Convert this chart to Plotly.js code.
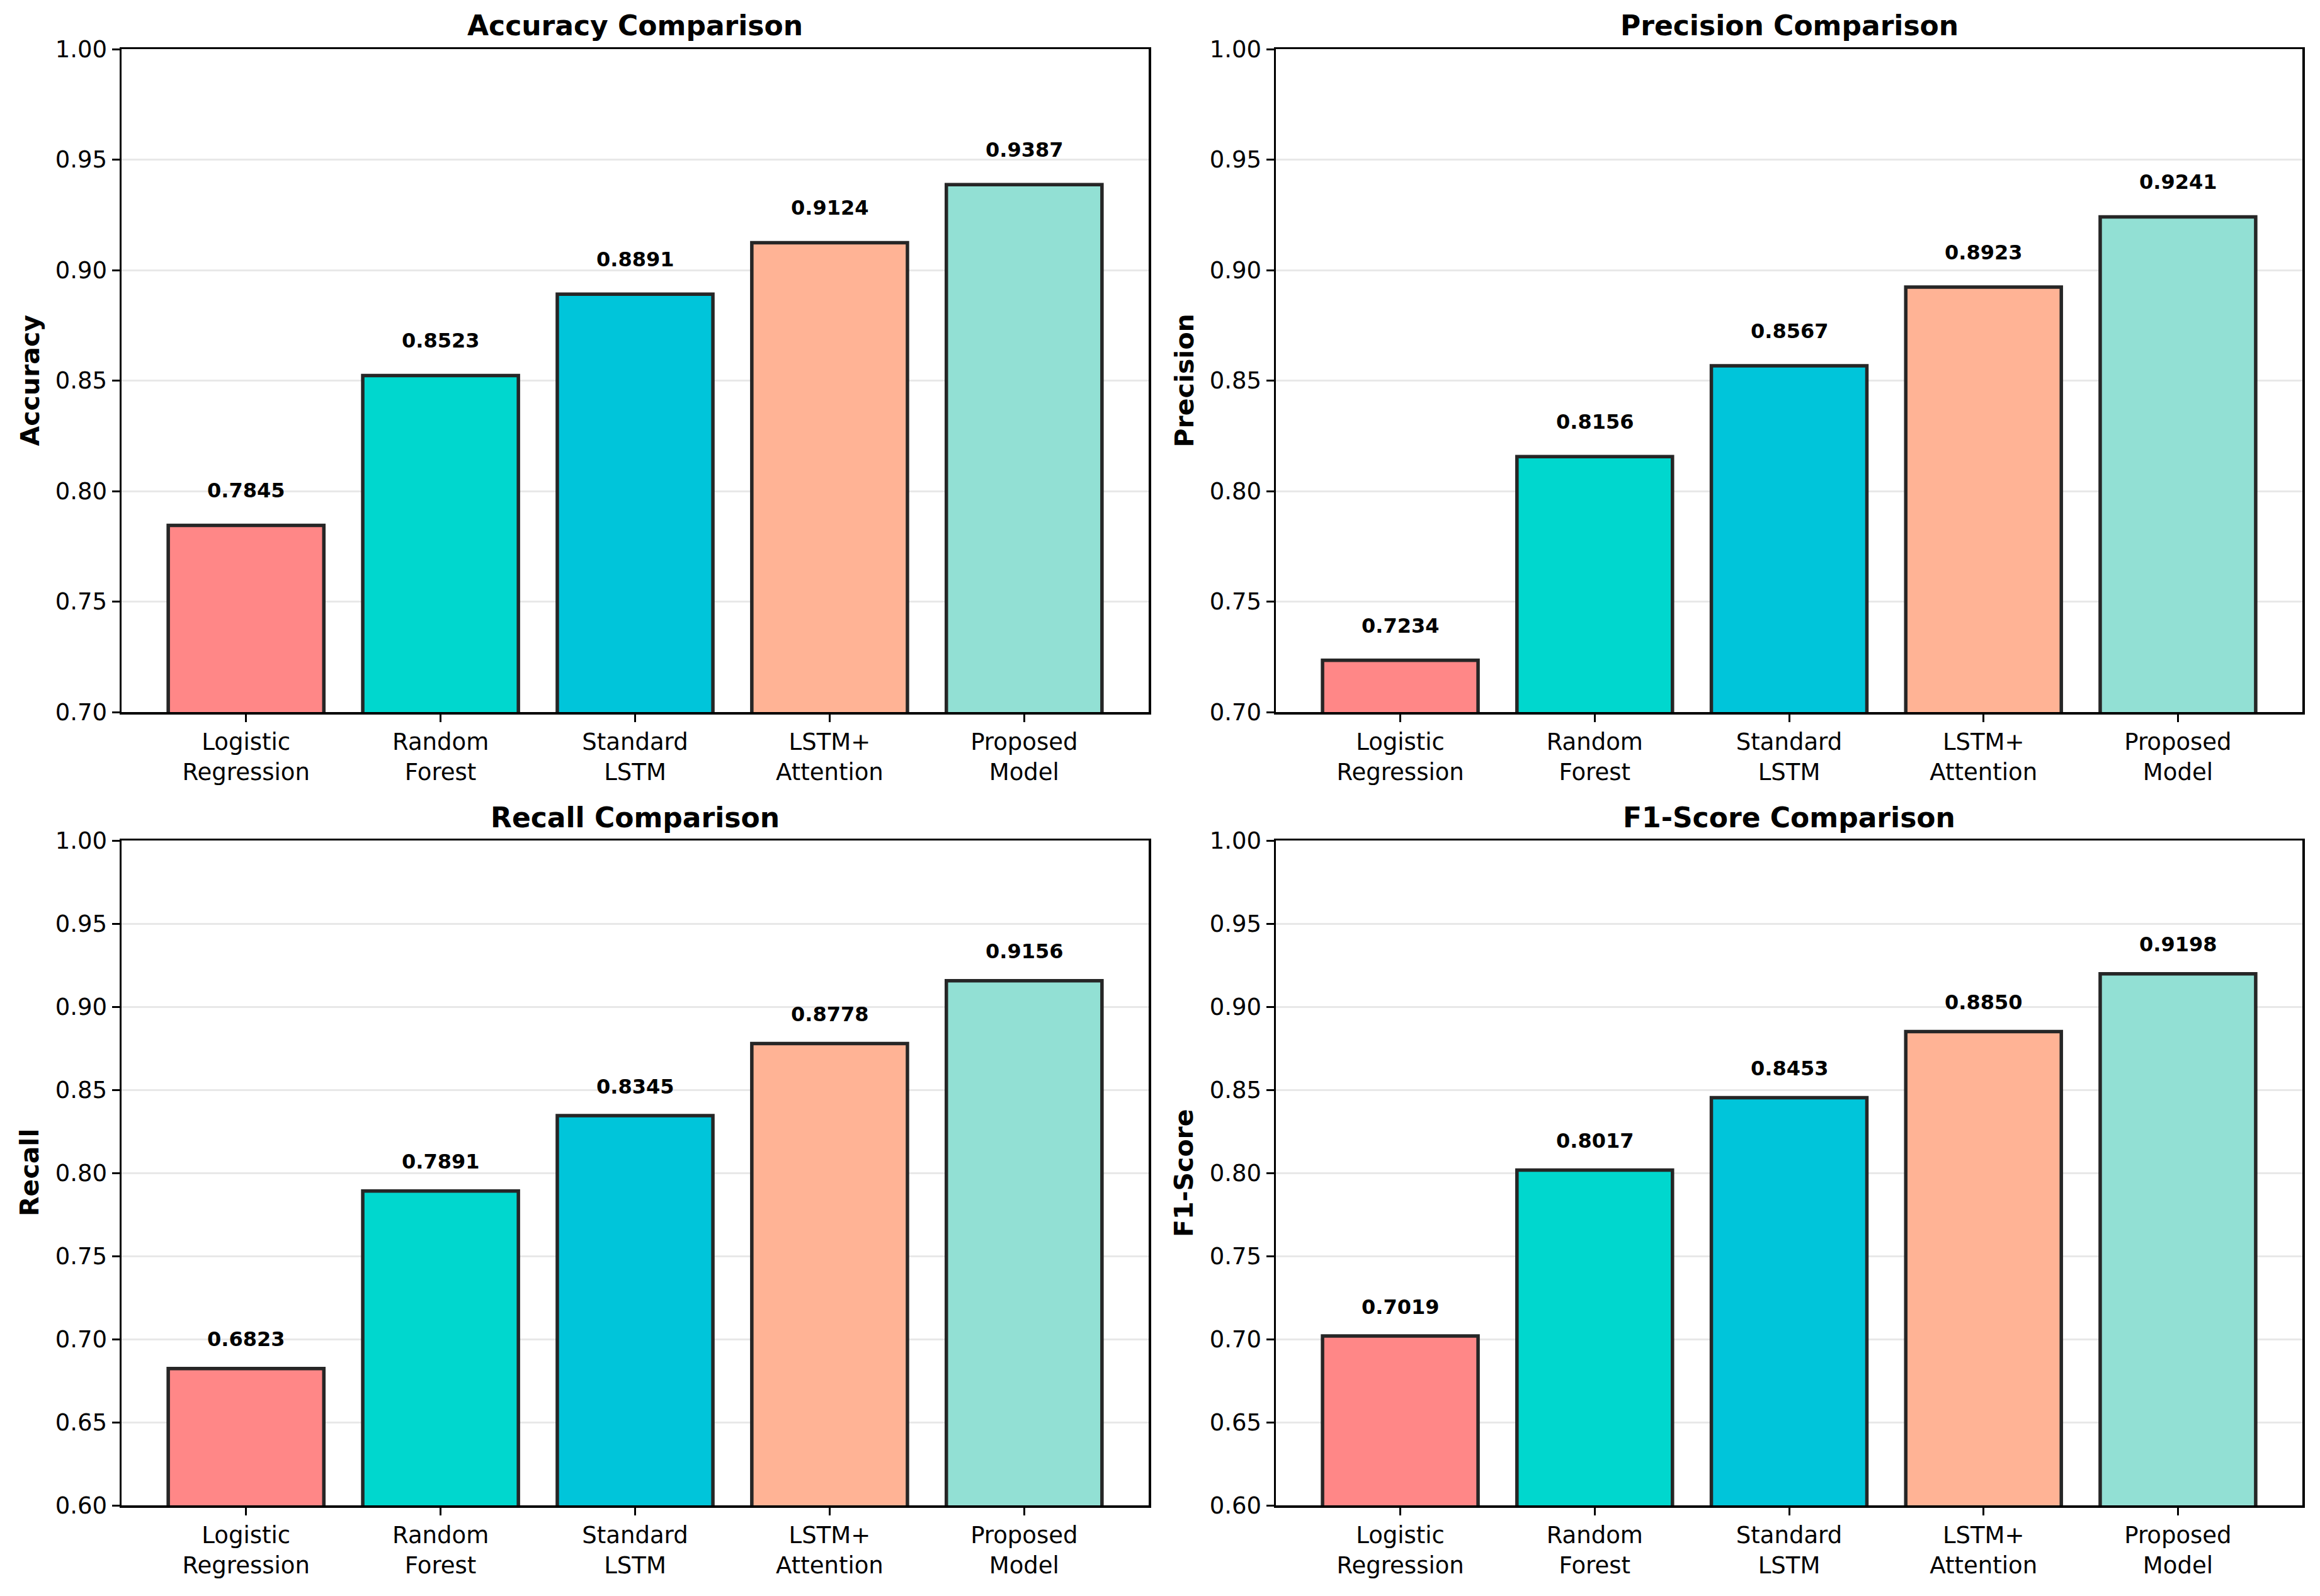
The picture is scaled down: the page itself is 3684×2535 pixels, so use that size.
<!DOCTYPE html>
<html>
<head>
<meta charset="utf-8">
<script src="https://cdn.plot.ly/plotly-3.0.1.min.js"></script>
<style>
  html, body { margin: 0; padding: 0; background: #ffffff; }
  #chart { width: 3684px; height: 2535px; }
</style>
</head>
<body>
<div id="chart"></div>
<script>
// ---- data ----
const categories = ['Logistic Regression', 'Random Forest', 'Standard LSTM', 'LSTM+Attention', 'Proposed Model'];
const tickLabels = ['Logistic<br>Regression', 'Random<br>Forest', 'Standard<br>LSTM', 'LSTM+<br>Attention', 'Proposed<br>Model'];
const accuracy  = [0.7845, 0.8523, 0.8891, 0.9124, 0.9387];
const precision = [0.7234, 0.8156, 0.8567, 0.8923, 0.9241];
const recall    = [0.6823, 0.7891, 0.8345, 0.8778, 0.9156];
const f1score   = [0.7019, 0.8017, 0.8453, 0.8850, 0.9198];
const metricNames = ['Accuracy', 'Precision', 'Recall', 'F1-Score'];
const yTickVals = [0.60, 0.65, 0.70, 0.75, 0.80, 0.85, 0.90, 0.95, 1.00];

// ---- styles ----
const W = 3684, H = 2535;
const barColors = ['#FF8787', '#00D7CE', '#00C5DA', '#FFB395', '#92E0D4'];
const FONT = 'DejaVu Sans, Verdana, sans-serif';
const px = (a, b) => [a / W, b / W];
const py = (top, bottom) => [(H - bottom) / H, (H - top) / H];

const panels = [
  { values: accuracy,  name: metricNames[0], xd: px(193, 1824),  yd: py(78, 1131),   yr: [0.70, 1.00] },
  { values: precision, name: metricNames[1], xd: px(2026, 3656), yd: py(78, 1131),   yr: [0.70, 1.00] },
  { values: recall,    name: metricNames[2], xd: px(193, 1824),  yd: py(1335, 2391), yr: [0.60, 1.00] },
  { values: f1score,   name: metricNames[3], xd: px(2026, 3656), yd: py(1335, 2391), yr: [0.60, 1.00] }
];

const traces = [];
const annotations = [];
const layout = {
  width: W, height: H,
  margin: { l: 0, r: 0, t: 0, b: 0, pad: 0 },
  paper_bgcolor: '#ffffff',
  plot_bgcolor: '#ffffff',
  showlegend: false,
  bargap: 0.2,
  font: { family: FONT, size: 37, color: '#000000' },
  annotations: annotations
};

panels.forEach((p, i) => {
  const n = i === 0 ? '' : String(i + 1);
  const xa = 'x' + n, ya = 'y' + n;
  traces.push({
    type: 'bar',
    x: categories,
    y: p.values,
    xaxis: xa, yaxis: ya,
    width: 0.8,
    marker: { color: barColors, line: { color: '#262626', width: 5.5 } },
    hoverinfo: 'x+y'
  });
  layout['xaxis' + n] = {
    domain: p.xd, anchor: ya,
    type: 'category',
    range: [-0.64, 4.64],
    tickmode: 'array', tickvals: categories, ticktext: tickLabels,
    showline: true, mirror: true, linecolor: '#000000', linewidth: 3.5,
    ticks: 'outside', ticklen: 12, tickwidth: 3, tickcolor: '#000000',
    showgrid: false, zeroline: false,
    tickfont: { family: FONT, size: 37, color: '#000000' },
    fixedrange: true
  };
  layout['yaxis' + n] = {
    domain: p.yd, anchor: xa,
    range: p.yr,
    tickmode: 'array',
    tickvals: yTickVals.filter(v => v >= p.yr[0] - 1e-9),
    ticktext: yTickVals.filter(v => v >= p.yr[0] - 1e-9).map(v => v.toFixed(2)),
    showline: true, mirror: true, linecolor: '#000000', linewidth: 3.5,
    ticks: 'outside', ticklen: 12, tickwidth: 3, tickcolor: '#000000',
    showgrid: true, gridcolor: '#e8e8e8', gridwidth: 3,
    zeroline: false,
    tickfont: { family: FONT, size: 37, color: '#000000' },
    fixedrange: true
  };
  // value labels above bars
  p.values.forEach((v, k) => {
    annotations.push({
      xref: xa, yref: ya,
      x: categories[k], y: v + 0.01,
      text: '<b>' + v.toFixed(4) + '</b>',
      showarrow: false,
      xanchor: 'center', yanchor: 'bottom',
      borderpad: 0,
      font: { family: FONT, size: 32, color: '#000000' }
    });
  });
  // subplot title
  const topPx = H - p.yd[1] * H;
  annotations.push({
    xref: 'paper', yref: 'paper',
    x: (p.xd[0] + p.xd[1]) / 2, y: (H - (topPx - 37)) / H,
    text: '<b>' + p.name + ' Comparison</b>',
    showarrow: false, xanchor: 'center', yanchor: 'middle',
    font: { family: FONT, size: 44, color: '#000000' }
  });
  // y-axis label
  annotations.push({
    xref: 'paper', yref: 'paper',
    x: (p.xd[0] * W - 146) / W, y: (p.yd[0] + p.yd[1]) / 2,
    text: '<b>' + p.name + '</b>',
    textangle: -90,
    showarrow: false, xanchor: 'center', yanchor: 'middle',
    font: { family: FONT, size: 41, color: '#000000' }
  });
});

Plotly.newPlot('chart', traces, layout, { displayModeBar: false, staticPlot: true });
</script>
</body>
</html>
